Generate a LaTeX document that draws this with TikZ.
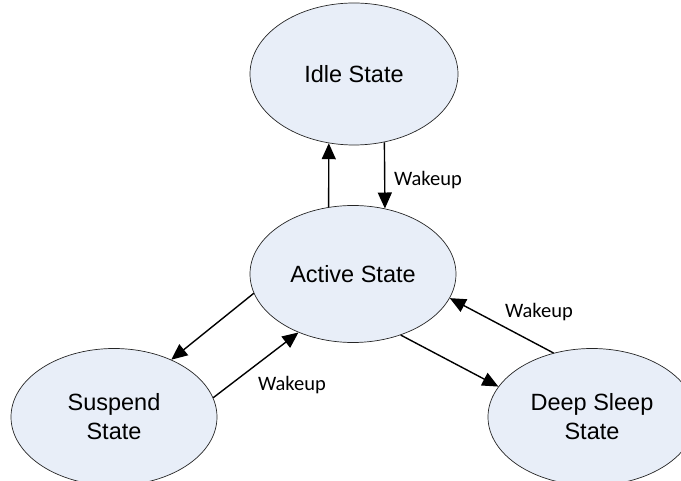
\documentclass[tikz,border=0pt]{standalone}
\usepackage{fontspec}
\setmainfont{Liberation Sans}
\newfontfamily\labelfont{Carlito}
\usetikzlibrary{arrows.meta,shapes.geometric}
\begin{document}
\begin{tikzpicture}[x=1pt, y=-1pt,
        state/.style={ellipse, draw=black!85, line width=0.7pt, fill={rgb,255:red,232;green,238;blue,248},
            minimum width=206pt, minimum height=137pt, inner sep=0pt, align=center,
            font=\fontsize{23.5}{29}\selectfont},
        trans/.style={line width=1.4pt, -{Triangle[length=16pt,width=14pt]}},
        wake/.style={font=\labelfont\fontsize{20.5}{24}\selectfont}]
    \useasboundingbox (0,0) rectangle (681,481);
    \node[state, minimum width=208pt, minimum height=142pt] (idle) at (354,74) {Idle State};
    \node[state] (active) at (353,274) {Active State};
    \node[state] (suspend) at (114,417) {Suspend\\State};
    \node[state, minimum width=208pt] (deep) at (592,417) {Deep Sleep\\State};
    \draw[trans] (active.110) -- (idle.250);
    \draw[trans] (idle.294) -- (active.64);
    \draw (428,180) node[wake] (wakeidle) {Wakeup};
    \draw[trans] (active.191.7) -- (suspend.45.5);
    \draw[trans] (suspend.11.5) -- (active.227);
    \draw (292,385) node[wake] (wakesuspend) {Wakeup};
    \draw[trans] (active.308.8) -- (deep.162.9);
    \draw[trans] (deep.121.8) -- (active.346.7);
    \draw (539,312) node[wake] (wakedeep) {Wakeup};
\end{tikzpicture}
\end{document}
